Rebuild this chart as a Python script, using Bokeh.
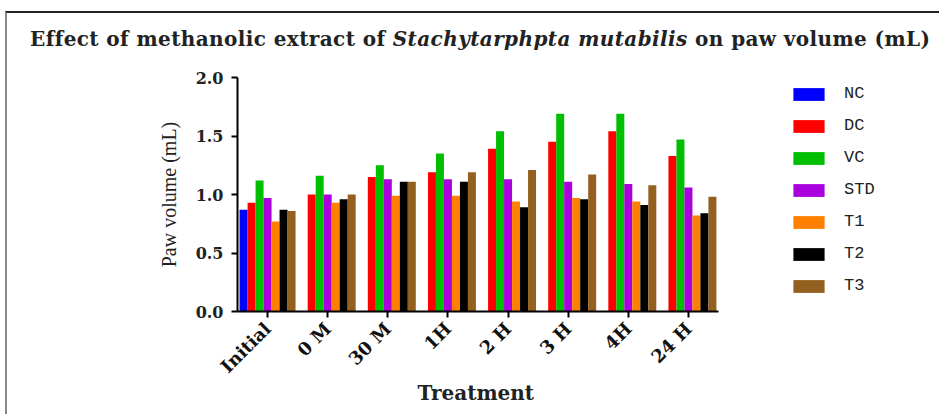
import math
from bokeh.plotting import figure
from bokeh.models import (Range1d, FixedTicker, NumeralTickFormatter, Title,
                          Legend, LegendItem, ColumnDataSource, Div)
from bokeh.layouts import column
from bokeh.transform import dodge
from bokeh.embed import file_html
from bokeh.resources import INLINE

NAN = float("nan")
categories = ["Initial", "0 M", "30 M", "1H", "2 H", "3 H", "4H", "24 H"]
series = ["NC", "DC", "VC", "STD", "T1", "T2", "T3"]
NC  = [0.87, NAN, NAN, NAN, NAN, NAN, NAN, NAN]
DC  = [0.93, 1.00, 1.15, 1.19, 1.39, 1.45, 1.54, 1.33]
VC  = [1.12, 1.16, 1.25, 1.35, 1.54, 1.69, 1.69, 1.47]
STD = [0.97, 1.00, 1.13, 1.13, 1.13, 1.11, 1.09, 1.06]
T1  = [0.77, 0.93, 0.99, 0.99, 0.94, 0.97, 0.94, 0.82]
T2  = [0.87, 0.96, 1.11, 1.11, 0.89, 0.96, 0.91, 0.84]
T3  = [0.86, 1.00, 1.11, 1.19, 1.21, 1.17, 1.08, 0.98]
values = [NC, DC, VC, STD, T1, T2, T3]
colors = ["#0000FF", "#FF0000", "#00BF00", "#AA00DD", "#FF8000", "#000000", "#94601F"]
y_ticks = [0.0, 0.5, 1.0, 1.5, 2.0]
title_before = "Effect of methanolic extract of"
title_species = "Stachytarphpta mutabilis"
title_after = "on paw volume (mL)"
x_title = "Treatment"
y_title = "Paw volume (mL)"

CW = 932          # content width
DIV_H = 45
W, H = CW, 356
FL, FR, FT, FB = 230, 930, 19, 253  # frame edges in figure px
AXIS_RIGHT = 711                     # where the category axis ends
ncat = len(categories)
cat_px = (AXIS_RIGHT - FL) / ncat
x_end = -0.5 + (FR - FL) / cat_px

serif_b = "DejaVu Serif"

title = Div(
    text=(f'<div style="padding-left:23px;padding-top:14px;white-space:nowrap;'
          f'font-family:\'{serif_b}\';font-weight:bold;font-size:20px;line-height:24px;'
          f'letter-spacing:0.4px;color:#222222;">{title_before} '
          f'<i>{title_species}</i> {title_after}</div>'),
    width=CW, height=DIV_H, margin=0)

p = figure(width=W, height=H, output_backend="svg", toolbar_location=None,
           x_range=Range1d(-0.5, x_end), y_range=Range1d(0, 2.0),
           min_border_left=FL, min_border_right=W - FR,
           min_border_top=FT, min_border_bottom=H - FB, margin=0)
p.outline_line_color = None
p.xgrid.grid_line_color = None
p.ygrid.grid_line_color = None
p.background_fill_color = "white"
p.border_fill_color = "white"

src = ColumnDataSource(dict(xi=list(range(ncat)), **{s: v for s, v in zip(series, values)}))
bw = 0.133
renderers = []
for i, (s, c) in enumerate(zip(series, colors)):
    r = p.vbar(x=dodge("xi", (i - 3) * bw), top=s, width=bw,
               source=src, fill_color=c, line_color=None)
    renderers.append(r)

ya = p.yaxis[0]
ya.ticker = FixedTicker(ticks=y_ticks)
ya.formatter = NumeralTickFormatter(format="0.0")
ya.axis_label = y_title
ya.axis_label_text_font = "Liberation Serif"
ya.axis_label_text_font_style = "normal"
ya.axis_label_text_font_size = "20px"
ya.axis_label_text_color = "#222222"
ya.axis_label_standoff = 13
ya.major_label_text_font = serif_b
ya.major_label_text_font_style = "bold"
ya.major_label_text_font_size = "16px"
ya.major_label_text_color = "#222222"
ya.major_label_standoff = 8
ya.minor_tick_line_color = None
ya.major_tick_in = 0
ya.major_tick_out = 6
ya.major_tick_line_width = 2
ya.axis_line_width = 2
ya.axis_line_color = "black"
ya.major_tick_line_color = "black"

xa = p.xaxis[0]
xa.ticker = FixedTicker(ticks=list(range(ncat)))
xa.major_label_overrides = {i: c for i, c in enumerate(categories)}
xa.bounds = (-0.5, ncat - 0.5)
xa.minor_tick_line_color = None
xa.major_label_orientation = math.pi / 4
xa.major_label_text_font = serif_b
xa.major_label_text_font_style = "bold"
xa.major_label_text_font_size = "18px"
xa.major_label_text_color = "#111111"
xa.major_label_standoff = 8
xa.major_tick_in = 0
xa.major_tick_out = 6
xa.major_tick_line_width = 2
xa.axis_line_width = 2
xa.axis_line_color = "black"
xa.major_tick_line_color = "black"

p.add_layout(Title(text=x_title, align="left", offset=180, standoff=-14,
                   vertical_align="top",
                   text_font=serif_b, text_font_style="bold", text_font_size="20px",
                   text_color="#222222"), "below")

legend = Legend(items=[LegendItem(label=s, renderers=[r]) for s, r in zip(series, renderers)],
                location=(AXIS_RIGHT - FL + 71, 16), orientation="vertical",
                glyph_width=39, glyph_height=16, label_height=16, spacing=13,
                label_standoff=16, padding=0, margin=0,
                border_line_color=None, background_fill_alpha=0,
                label_text_font="Liberation Mono", label_text_font_size="17px",
                label_text_color="#222222", label_text_baseline="middle")
p.add_layout(legend, "center")

inner = column(title, p, spacing=0,
               styles={"border-top": "2px solid #222222", "border-left": "2px solid #888888"})
outer = column(inner, styles={"padding-left": "5px", "padding-top": "11px"})

open("out.html", "w").write(file_html(outer, INLINE))
